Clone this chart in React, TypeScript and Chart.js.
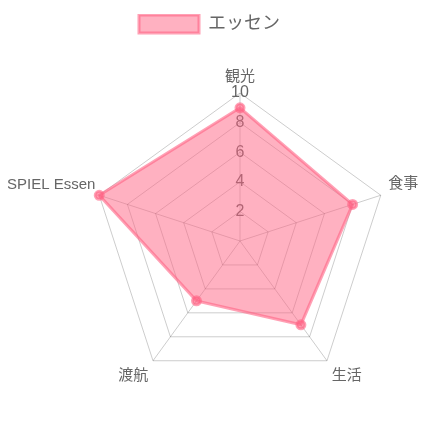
import React, { useEffect, useRef } from "react";
import { Chart, registerables } from "chart.js";

Chart.register(...registerables);

const categories = ["観光", "食事", "生活", "渡航", "SPIEL Essen"];
const seriesName = "エッセン";
const seriesValues = [9, 8, 7, 5, 10];
const tickMin = 0;
const tickMax = 10;
const tickStep = 2;

// radar placement inside the canvas (layout, not data)
const RADAR_CENTER_X = 240;
const RADAR_CENTER_Y = 233;
const RADAR_RADIUS = 148;

export default function App() {
  const ref = useRef<HTMLCanvasElement | null>(null);
  useEffect(() => {
    if (!ref.current) return;
    const font = "'Helvetica Neue', Helvetica, Arial, 'Noto Sans CJK JP', sans-serif";
    Chart.defaults.font.family = font;
    Chart.defaults.color = "#666";
    const chart = new Chart(ref.current, {
      type: "radar",
      data: {
        labels: categories,
        datasets: [
          {
            label: seriesName,
            data: seriesValues,
            backgroundColor: "rgba(255,99,132,0.5)",
            borderColor: "rgba(255,99,132,0.6)",
            borderWidth: 3,
            pointRadius: 4,
            pointBackgroundColor: "rgba(255,99,132,0.6)",
            pointBorderColor: "rgba(255,99,132,0.6)",
          },
        ],
      },
      options: {
        animation: false,
        responsive: true,
        maintainAspectRatio: false,
        layout: { padding: { top: 6, bottom: 5, left: 0, right: 8 } },
        plugins: {
          legend: {
            labels: { boxWidth: 60, boxHeight: 18, padding: 1, font: { size: 18 }, color: "#666" },
          },
          tooltip: { enabled: false },
        },
        scales: {
          r: {
            min: tickMin,
            max: tickMax,
            afterSetDimensions: (scale: any) => {
              scale.xCenter = RADAR_CENTER_X;
              scale.yCenter = RADAR_CENTER_Y;
              scale.drawingArea = RADAR_RADIUS;
              scale._padding = { left: -1000, right: -1000, top: -1000, bottom: -1000 };
            },
            ticks: {
              stepSize: tickStep,
              showLabelBackdrop: false,
              backdropPadding: { x: 0, y: -8 },
              font: { size: 16 },
              color: "#666",
            },
            grid: { color: "rgba(0,0,0,0.2)" },
            angleLines: { color: "rgba(0,0,0,0.2)" },
            pointLabels: {
              font: { size: 15 },
              color: "#666",
              padding: (ctx: any) => (ctx.index === 0 ? 7 : ctx.index === 4 ? 4 : 8),
            },
          },
        },
      },
    });
    return () => chart.destroy();
  }, []);
  return (
    <div style={{ width: 427, height: 419, marginLeft: -8, position: "relative" }}>
      <canvas ref={ref} />
    </div>
  );
}
